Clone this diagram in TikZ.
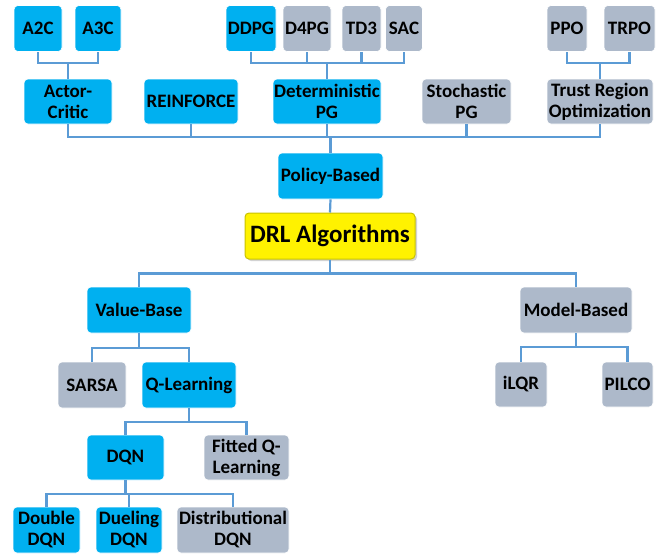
\documentclass[tikz,border=0pt]{standalone}
\usepackage{fontspec}
\setmainfont{Carlito}
\usetikzlibrary{calc,shadows}
\definecolor{bluebox}{HTML}{00B0F0}
\definecolor{graybox}{HTML}{ADB9CA}
\definecolor{linkc}{HTML}{5B9BD5}
\definecolor{drlborder}{HTML}{C9C200}
\tikzset{
  box/.style={rounded corners=4pt, inner sep=0pt, align=center,
    font=\fontsize{19}{21}\selectfont\bfseries, text=black,
    minimum height=46pt, draw=white, line width=0.6pt},
  bb/.style={box, fill=bluebox},
  gb/.style={box, fill=graybox},
  link/.style={draw=linkc, line width=2.2pt},
}
\begin{document}
\begin{tikzpicture}[x=1pt,y=-1pt]
\useasboundingbox (0,0) rectangle (665,555);
% top row
\node[bb, minimum width=48pt] (a2c) at (38,28.5) {A2C};
\node[bb, minimum width=46pt] (a3c) at (98,28.5) {A3C};
\node[bb, minimum width=50pt] (ddpg) at (251,28.5) {DDPG};
\node[gb, minimum width=48pt] (d4pg) at (307,28.5) {D4PG};
\node[gb, minimum width=39pt] (td3) at (361.5,28.5) {TD3};
\node[gb, minimum width=37pt] (sac) at (404,28.5) {SAC};
\node[gb, minimum width=40pt] (ppo) at (567,28.5) {PPO};
\node[gb, minimum width=51pt] (trpo) at (629.5,28.5) {TRPO};
% second row
\node[bb, minimum width=88pt, minimum height=45pt] (ac) at (68,101.5) {Actor-\\Critic};
\node[bb, minimum width=94pt, minimum height=45pt] (rein) at (191,101.5) {REINFORCE};
\node[bb, minimum width=108pt, minimum height=45pt] (dpg) at (327,101.5) {Deterministic\\PG};
\node[gb, minimum width=89pt, minimum height=45pt] (spg) at (466.5,101.5) {Stochastic\\PG};
\node[gb, minimum width=106pt, minimum height=45pt] (tro) at (600,101.5) {Trust Region\\Optimization};
% middle
\node[bb, minimum width=105pt] (pb) at (330.5,176) {Policy-Based};
\node[box, fill=yellow, draw=drlborder, line width=1pt, minimum width=170pt,
  font=\fontsize{25}{28}\selectfont\bfseries,
  drop shadow={shadow xshift=2pt, shadow yshift=-2pt, fill=black!35}] (drl) at (330,236) {DRL Algorithms};
\node[bb, minimum width=104pt] (vb) at (139,310) {Value-Base};
\node[gb, minimum width=112pt] (mb) at (576,310) {Model-Based};
\node[gb, minimum width=68pt] (sarsa) at (92,385) {SARSA};
\node[bb, minimum width=94pt] (ql) at (189,385) {Q-Learning};
\node[gb, minimum width=52pt, minimum height=45pt] (ilqr) at (521,384.5) {iLQR};
\node[gb, minimum width=51pt, minimum height=45pt] (pilco) at (627.5,384.5) {PILCO};
\node[bb, minimum width=77pt, minimum height=45pt] (dqn) at (125.5,457.5) {DQN};
\node[gb, minimum width=85pt, minimum height=45pt] (fql) at (246.5,457.5) {Fitted Q-\\Learning};
\node[bb, minimum width=67pt] (ddqn) at (46.5,530) {Double\\DQN};
\node[bb, minimum width=66pt] (duel) at (129,530) {Dueling\\DQN};
\node[gb, minimum width=112pt] (dist) at (233,530) {Distributional\\DQN};
% connectors
\foreach \c in {a2c,a3c} \draw[link] (ac.north) -- ++(0,-16) -| (\c.south);
\foreach \c in {ddpg,d4pg,td3,sac} \draw[link] (dpg.north) -- ++(0,-16) -| (\c.south);
\foreach \c in {ppo,trpo} \draw[link] (tro.north) -- ++(0,-16) -| (\c.south);
\foreach \c in {ac,rein,dpg,spg,tro} \draw[link] (pb.north) -- ++(0,-16) -| (\c.south);
\draw[link] (pb.south) -- (drl.north);
\foreach \c in {vb,mb} \draw[link] (drl.south) -- ++(0,14) -| (\c.north);
\foreach \c in {sarsa,ql} \draw[link] (vb.south) -- ++(0,15) -| (\c.north);
\foreach \c in {ilqr,pilco} \draw[link] (mb.south) -- ++(0,14) -| (\c.north);
\foreach \c in {dqn,fql} \draw[link] (ql.south) -- ++(0,14) -| (\c.north);
\foreach \c in {ddqn,duel,dist} \draw[link] (dqn.south) -- ++(0,14) -| (\c.north);
\end{tikzpicture}
\end{document}
